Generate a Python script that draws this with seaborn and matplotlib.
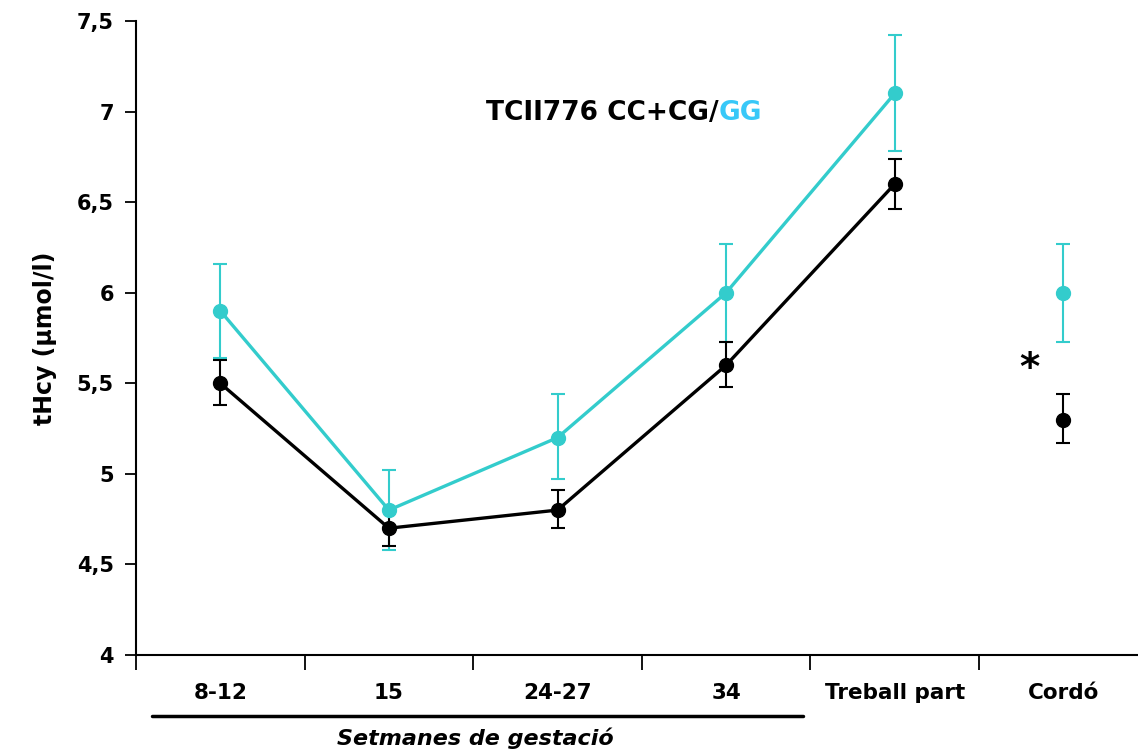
import matplotlib
matplotlib.use("Agg")
import matplotlib.pyplot as plt
import matplotlib.ticker as mticker
import numpy as np
import pandas as pd
import seaborn as sns

# ── Data ──────────────────────────────────────────────────────────────────────
CATEGORIES = ["8-12", "15", "24-27", "34", "Treball part", "Cordó"]

GG_MEAN  = [5.9, 4.8, 5.2, 6.0, 7.1, 6.0]
GG_LOW   = [5.64, 4.58, 4.97, 5.73, 6.78, 5.73]
GG_HIGH  = [6.16, 5.02, 5.44, 6.27, 7.42, 6.27]

CC_MEAN  = [5.5, 4.7, 4.8, 5.6, 6.6, 5.3]
CC_LOW   = [5.38, 4.6, 4.7, 5.48, 6.46, 5.17]
CC_HIGH  = [5.63, 4.8, 4.91, 5.73, 6.74, 5.44]

TURQ  = "#33CCCC"
BLACK = "#000000"

sns.set_theme(style="white")
plt.rcParams["font.family"] = ["DejaVu Sans"]
plt.rcParams["text.color"] = "black"
plt.rcParams["xtick.color"] = "black"
plt.rcParams["ytick.color"] = "black"
plt.rcParams["axes.labelcolor"] = "black"

fig = plt.figure(figsize=(11.38, 7.49), dpi=100)
ax = fig.add_axes([136 / 1138, 1 - 655 / 749, 1 - 136 / 1138, (655 - 21) / 749])

x = np.arange(len(CATEGORIES))
df = pd.DataFrame({"x": np.concatenate([x[:5], x[:5]]),
                   "y": GG_MEAN[:5] + CC_MEAN[:5],
                   "grup": ["GG"] * 5 + ["CC"] * 5})

# connected lines (gestation weeks + labour), cord is a separate point
sns.lineplot(data=df, x="x", y="y", hue="grup", palette={"GG": TURQ, "CC": BLACK},
             linewidth=2.4, legend=False, ax=ax, zorder=3)

for mean, lo, hi, col in [(GG_MEAN, GG_LOW, GG_HIGH, TURQ), (CC_MEAN, CC_LOW, CC_HIGH, BLACK)]:
    mean = np.array(mean)
    yerr = [mean - np.array(lo), np.array(hi) - mean]
    ax.errorbar(x, mean, yerr=yerr, fmt="o", color=col, ms=10, elinewidth=1.5,
                capsize=5, capthick=1.5, zorder=4)

# ── Axes ──────────────────────────────────────────────────────────────────────
ax.set_ylim(4, 7.5)
ax.set_xlim(-0.5, 5.443)
ax.set_yticks(np.arange(4, 7.51, 0.5))
ax.yaxis.set_major_formatter(mticker.FuncFormatter(lambda v, _: f"{v:g}".replace(".", ",")))
ax.set_xticks(np.arange(-0.5, 5.5, 1))
ax.set_xticklabels([])
ax.set_xticks(x, minor=True)
ax.set_xticklabels(CATEGORIES, minor=True, fontsize=15.5, fontweight="bold")
ax.tick_params(axis="x", which="major", direction="out", length=11, width=1.3,
               bottom=True, color="black")
ax.tick_params(axis="x", which="minor", length=0, pad=20)
ax.tick_params(axis="y", direction="out", length=8, width=1.3, left=True,
               labelsize=15, color="black", pad=8)
for lbl in ax.get_yticklabels():
    lbl.set_fontweight("bold")

for s in ["top", "right"]:
    ax.spines[s].set_visible(False)
for s in ["left", "bottom"]:
    ax.spines[s].set_color("black")
    ax.spines[s].set_linewidth(1.5)

ax.set_xlabel("")
ax.set_ylabel("tHcy (µmol/l)", fontsize=17, fontweight="bold", labelpad=14)

# title with coloured GG
t1 = fig.text(486 / 1138, 1 - 113 / 749, "TCII776 CC+CG/", fontsize=19, fontweight="bold",
              ha="left", va="center", color="black")
fig.canvas.draw()
bb = t1.get_window_extent().transformed(fig.transFigure.inverted())
fig.text(bb.x1, 1 - 113 / 749, "GG", fontsize=19, fontweight="bold",
         ha="left", va="center", color="#38C8F8")

# significance mark
ax.text(4.8, 5.58, "*", fontsize=28, fontweight="bold", ha="center", va="center")

# bracket for gestation weeks
fig.add_artist(plt.Line2D([152 / 1138, 803 / 1138], [1 - 716 / 749] * 2,
                          color="black", linewidth=2.5))
fig.text(475 / 1138, 1 - 738 / 749, "Setmanes de gestació", fontsize=16,
         fontweight="bold", fontstyle="italic", ha="center", va="center")

fig.savefig("out.png", dpi=100)
